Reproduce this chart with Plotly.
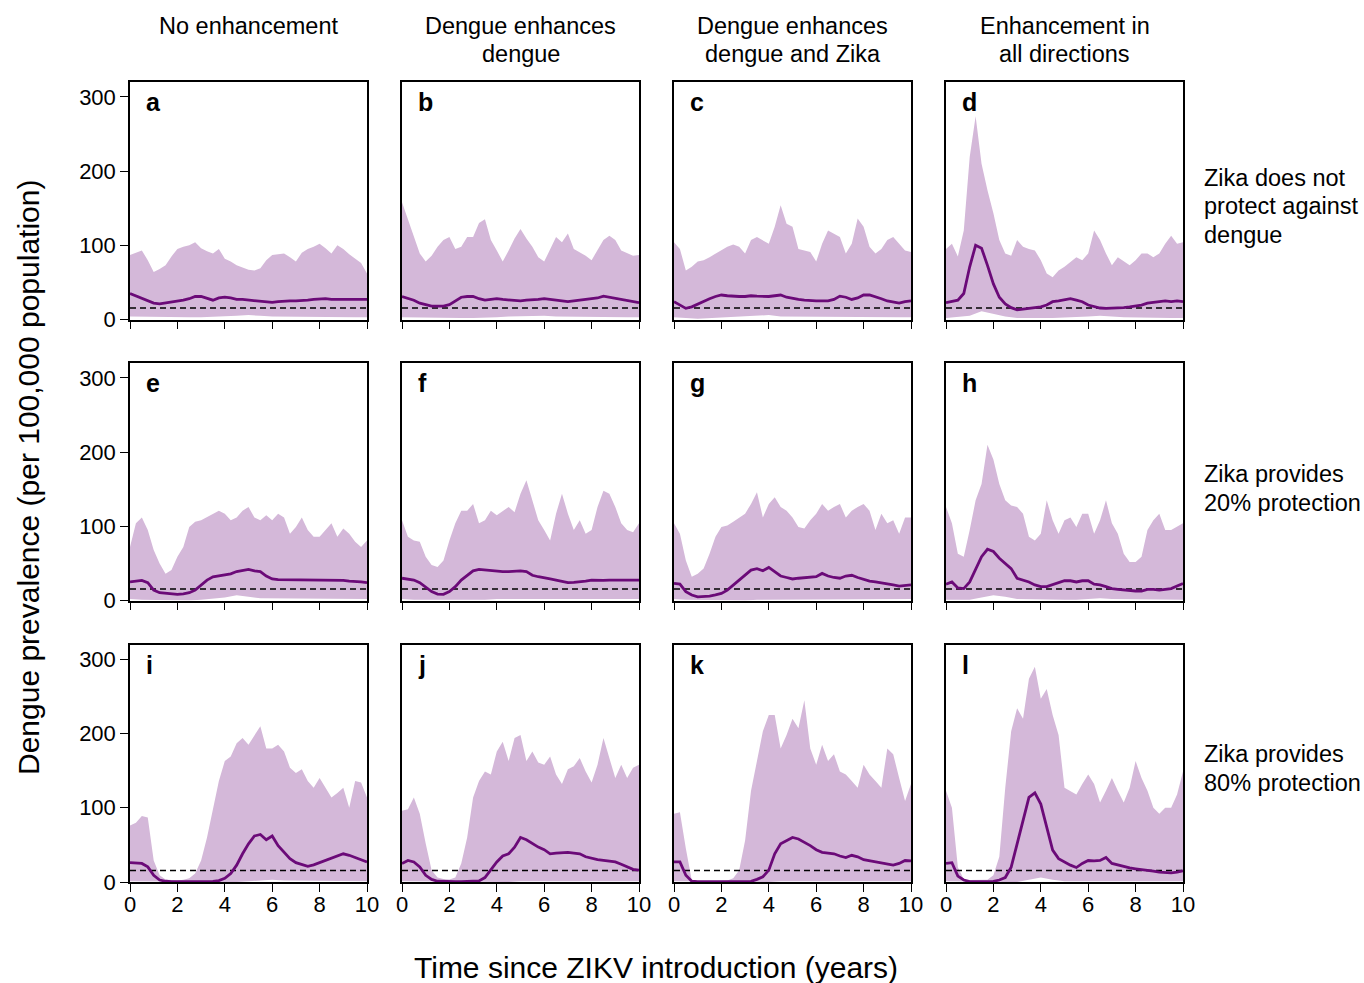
import plotly.graph_objects as go

# ---------------------------------------------------------------------------
# Time grids (years since ZIKV introduction)
# ---------------------------------------------------------------------------
years = [i * 0.25 for i in range(41)]        # grid for upper bound and median
years_low = [i * 0.5 for i in range(21)]     # grid for lower bound

# Dengue prevalence per 100,000: upper bound of the simulation envelope
upper_a = [87, 90, 93, 80, 64, 68, 73, 85, 95, 98, 100, 104, 96, 92, 89, 95, 82, 78, 73, 70, 67,
           66, 69, 80, 87, 88, 89, 84, 78, 90, 95, 98, 102, 96, 89, 100, 95, 88, 82, 76, 62]
upper_b = [158, 134, 111, 89, 78, 86, 98, 107, 111, 95, 98, 111, 111, 130, 135, 107, 93, 78, 93, 109, 122,
           109, 98, 84, 78, 95, 111, 104, 116, 95, 91, 86, 80, 93, 107, 113, 107, 93, 89, 86, 87]
upper_c = [104, 95, 66, 71, 78, 80, 84, 89, 93, 98, 101, 98, 89, 107, 111, 107, 102, 125, 154, 129, 125,
           95, 93, 91, 78, 102, 120, 116, 111, 89, 102, 136, 125, 98, 89, 95, 107, 111, 102, 93, 91]
upper_d = [95, 102, 85, 120, 219, 274, 210, 174, 143, 107, 89, 86, 107, 98, 95, 93, 80, 62, 57, 66, 71,
           78, 84, 80, 89, 120, 107, 89, 73, 84, 78, 73, 80, 89, 89, 84, 89, 102, 113, 102, 104]
upper_e = [72, 104, 112, 95, 68, 50, 36, 41, 59, 72, 99, 106, 108, 112, 117, 121, 117, 108, 112, 121, 126,
           112, 108, 115, 108, 117, 112, 90, 99, 112, 95, 86, 86, 95, 104, 86, 97, 90, 79, 72, 81]
upper_f = [108, 86, 81, 79, 59, 48, 45, 54, 81, 104, 121, 121, 130, 104, 108, 121, 115, 121, 126, 119, 144,
           162, 135, 108, 95, 81, 117, 144, 117, 95, 108, 90, 95, 126, 148, 144, 126, 104, 95, 92, 104]
upper_g = [104, 90, 54, 32, 36, 43, 63, 86, 99, 101, 106, 112, 117, 130, 146, 112, 130, 139, 126, 121, 112,
           99, 97, 108, 117, 130, 121, 126, 130, 112, 121, 126, 130, 121, 95, 117, 104, 108, 90, 112, 112]
upper_h = [126, 104, 63, 59, 95, 135, 157, 210, 190, 157, 135, 128, 126, 117, 86, 81, 90, 135, 108, 90, 108,
           112, 99, 117, 117, 90, 108, 135, 104, 90, 63, 52, 52, 59, 95, 108, 117, 95, 95, 99, 104]
upper_i = [76, 80, 89, 87, 29, 9, 3.5, 2.5, 2, 3, 5, 11.5, 29, 60, 100, 136, 163, 169, 187, 194, 185,
           198, 210, 180, 180, 185, 176, 154, 147, 152, 136, 127, 140, 127, 114, 120, 127, 100, 136, 134, 114]
upper_j = [96, 98, 114, 92, 52, 16, 6, 4, 3.5, 6, 25, 60, 114, 136, 149, 145, 176, 189, 163, 194, 198,
           163, 176, 161, 158, 169, 145, 132, 152, 156, 167, 149, 134, 158, 194, 167, 140, 158, 140, 154, 158]
upper_k = [92, 94, 45, 2, 1.5, 1, 1, 1, 1.5, 2, 5, 16, 56, 123, 163, 203, 225, 225, 180, 198, 220,
           207, 245, 180, 158, 185, 163, 172, 149, 145, 136, 127, 158, 145, 136, 127, 180, 172, 140, 109, 132]
upper_l = [123, 100, 20, 3.5, 2.7, 2.5, 2.5, 3, 9, 34, 127, 203, 234, 220, 274, 290, 247, 260, 225, 198, 127,
           123, 118, 132, 145, 132, 107, 123, 140, 123, 107, 127, 163, 140, 123, 100, 92, 100, 100, 118, 149]

# Median prevalence across simulations
median_a = [35, 32, 29, 26, 22, 21, 22, 23, 24, 26, 28, 31, 31, 28, 26, 29, 30, 29, 27, 27, 26,
            26, 25, 24, 23, 24, 25, 25, 25, 26, 26, 27, 28, 28, 27, 27, 27, 27, 26, 26, 27]
median_b = [31, 29, 26, 22, 19.5, 18, 18, 18, 20, 25, 30, 31, 31, 28, 26, 27, 28, 27, 26, 25, 25,
            26, 26, 27, 28, 27, 26, 25, 24, 25, 26, 27, 28, 29, 31.5, 30, 28, 27, 26, 24, 22.6]
median_c = [24, 20, 15, 17, 21, 25, 28, 31, 33, 32, 31, 31, 31, 32, 31.5, 31, 31, 32, 33, 30, 28,
            27, 26, 25, 25, 25, 25, 27, 31.5, 30, 27, 29, 33, 33, 31, 28, 25, 23, 22, 24, 25]
median_d = [22.6, 24, 26, 35, 71, 100, 96, 73, 48, 30, 21, 16, 13, 14, 15, 16, 17, 19.5, 24, 25, 27,
            28, 26, 24, 19.5, 17, 15.5, 15, 15, 15, 16, 17, 18, 19.5, 22, 22.6, 24, 25, 24, 25, 24]
median_e = [25, 26, 27, 24, 14, 10.5, 9.6, 9, 8.3, 9, 10.5, 14, 21, 27.5, 32, 33, 34, 36, 39, 40, 42,
            40, 39, 33, 29, 28, 28, 27.5, 27.5, 27, 27, 27.5, 27.5, 27, 27, 27, 27, 26, 25, 25, 24]
median_f = [30, 29, 27.5, 24, 18.6, 12, 8.7, 8.3, 12, 18.6, 27.5, 34, 40, 42, 41, 40, 40, 39, 39, 40, 40,
            39, 34, 32, 30, 29, 27.5, 26, 24, 24.5, 25, 26, 27.5, 27, 27, 27.5, 27.5, 28, 28, 28, 27.5]
median_g = [23, 22, 12, 7.4, 5, 5, 6, 7.5, 9.6, 14, 21, 27.5, 34, 41, 43, 40, 44.5, 39, 33, 31, 29,
            30, 31, 31, 32, 36.5, 33, 31, 30, 33, 34, 31, 28, 26, 25, 24, 23, 21, 19.5, 20, 21]
median_h = [22, 25, 17, 16, 25, 43, 59, 69, 66, 57, 50, 43, 30, 27.5, 25, 21, 18.6, 18.6, 21, 24, 26.6,
            26.6, 25, 26.6, 26.6, 22, 21, 18.6, 16, 15, 14, 13, 12.8, 12.8, 15, 15, 14, 15, 16, 19.5, 23]
median_i = [26, 26, 25, 20.4, 9, 2.7, 1, 0.5, 0.5, 0.5, 0.5, 0.5, 0.5, 0.5, 0.8, 2, 5, 11.5, 22.7, 38, 51.5,
            62, 64, 57, 62, 49, 40, 31.5, 26, 23, 21, 23, 26, 29, 31.5, 35, 38, 36, 33, 30, 27]
median_j = [25, 29, 27, 20.4, 9, 3.5, 1, 0.5, 0.5, 0.5, 0.5, 0.5, 0.5, 1.5, 6, 16, 27, 35, 38, 47, 60,
            57, 51.5, 47, 43.5, 38, 39, 40, 40, 39, 38, 34, 31.5, 30, 29, 28.4, 27, 24, 20.4, 17, 16]
median_k = [27, 27, 9, 1, 0.5, 0.5, 0.5, 0.5, 0.5, 0.5, 0.5, 0.5, 0.5, 0.8, 3.5, 7, 16, 38, 51.5, 56, 60,
            58, 54, 49, 43.5, 40, 39, 38, 35, 33, 36, 34, 30, 28.4, 27, 26, 24, 22.7, 25, 29, 28.4]
median_l = [25, 26, 8, 2.7, 0.5, 0.5, 0.5, 0.5, 0.8, 2.7, 6, 20, 52, 83, 114, 120, 105, 74, 43, 31.5, 27,
            22.7, 19.5, 25, 29, 28.4, 29, 33, 25, 22.7, 20.4, 19, 17.8, 17, 16, 14.7, 13.3, 12.4, 12.4, 13.3, 15]

# Lower bound of the simulation envelope
lower_a = [4, 4, 3, 3, 3, 3, 3, 3, 4, 5, 6, 5, 4, 3, 3, 3, 3, 3, 3, 3, 3]
lower_b = [3, 3, 2, 2, 2, 2, 2, 2, 3, 4, 5, 5, 5, 4, 3, 3, 3, 4, 3, 3, 3]
lower_c = [3, 2, 1, 1, 2, 3, 4, 5, 6, 4, 3, 3, 3, 3, 3, 3, 3, 3, 3, 3, 3]
lower_d = [2, 3, 5, 11, 8, 4, 2, 2, 2, 2, 2, 3, 4, 5, 4, 3, 2, 2, 2, 2, 2]
lower_e = [2, 1, 0, 0, 0, 0, 1, 2, 4, 7, 5, 3, 2, 2, 2, 2, 2, 2, 2, 2, 2]
lower_f = [2, 1, 0, 0, 0, 0, 1, 1, 2, 3, 3, 2, 2, 2, 2, 2, 2, 2, 2, 2, 2]
lower_g = [2, 1, 0, 0, 0, 0, 0, 1, 2, 2, 2, 2, 2, 2, 2, 2, 2, 2, 2, 2, 2]
lower_h = [1, 1, 1, 4, 7, 5, 2, 1, 1, 1, 1, 1, 2, 3, 2, 1, 1, 1, 1, 1, 1]
lower_i = [1, 0, 0, 0, 0, 0, 0, 0, 0, 0, 1, 2, 3, 2, 1, 1, 1, 1, 1, 1, 1]
lower_j = [1, 0, 0, 0, 0, 0, 0, 0, 0, 0, 1, 2, 2, 1, 1, 1, 1, 1, 1, 1, 1]
lower_k = [1, 0, 0, 0, 0, 0, 0, 0, 0, 1, 2, 2, 2, 1, 1, 1, 1, 1, 1, 1, 1]
lower_l = [1, 0, 0, 0, 0, 0, 0, 3, 6, 3, 1, 1, 1, 1, 1, 1, 1, 1, 1, 1, 1]

# Pre-Zika endemic level (dashed reference)
baseline = 15.5

panel_letters = ["a", "b", "c", "d", "e", "f", "g", "h", "i", "j", "k", "l"]
uppers = [upper_a, upper_b, upper_c, upper_d, upper_e, upper_f,
          upper_g, upper_h, upper_i, upper_j, upper_k, upper_l]
medians = [median_a, median_b, median_c, median_d, median_e, median_f,
           median_g, median_h, median_i, median_j, median_k, median_l]
lowers = [lower_a, lower_b, lower_c, lower_d, lower_e, lower_f,
          lower_g, lower_h, lower_i, lower_j, lower_k, lower_l]

column_titles = [["No enhancement"],
                 ["Dengue enhances", "dengue"],
                 ["Dengue enhances", "dengue and Zika"],
                 ["Enhancement in", "all directions"]]
row_titles = [["Zika does not", "protect against", "dengue"],
              ["Zika provides", "20% protection"],
              ["Zika provides", "80% protection"]]

x_ticks = [0, 2, 4, 6, 8, 10]
y_ticks = [0, 100, 200, 300]

# ---------------------------------------------------------------------------
# Layout geometry (pixels in a 1364 x 983 page)
# ---------------------------------------------------------------------------
W, H = 1364, 983
col_px = [(130, 367), (402, 639), (674, 911), (946, 1183)]
row_px = [(82, 319.5), (363, 600.5), (644.5, 882)]

BAND = "#D4B8D9"
LINE = "#6B0A78"
FONT = "Liberation Sans, Arial, Helvetica, sans-serif"


def px_x(p):
    return p / W


def px_y(p):
    return 1 - p / H


fig = go.Figure()
layout = dict(
    width=W, height=H,
    margin=dict(l=0, r=0, t=0, b=0, pad=0, autoexpand=False),
    paper_bgcolor="white", plot_bgcolor="white",
    showlegend=False,
    font=dict(family=FONT, color="black", size=22),
)
annotations = []

for k in range(12):
    r, c = divmod(k, 4)
    idx = k + 1
    xa = "x" if idx == 1 else f"x{idx}"
    ya = "y" if idx == 1 else f"y{idx}"

    up, med, lo = uppers[k], medians[k], lowers[k]

    # envelope polygon: upper bound forward, lower bound backward
    fig.add_trace(go.Scatter(
        x=years + years_low[::-1], y=up + lo[::-1],
        mode="lines", fill="toself", fillcolor=BAND,
        line=dict(width=0), hoverinfo="skip", xaxis=xa, yaxis=ya))
    fig.add_trace(go.Scatter(
        x=[years[0], years[-1]], y=[baseline, baseline], mode="lines",
        line=dict(color="black", width=1.6, dash="6px,4px"),
        hoverinfo="skip", xaxis=xa, yaxis=ya))
    fig.add_trace(go.Scatter(
        x=years, y=med, mode="lines",
        line=dict(color=LINE, width=2.8), xaxis=xa, yaxis=ya))

    x0, x1 = col_px[c]
    y0, y1 = row_px[r]
    layout[f"xaxis{'' if idx == 1 else idx}"] = dict(
        domain=[px_x(x0), px_x(x1)], range=[0, 10], anchor=ya,
        tickvals=x_ticks, ticks="outside", ticklen=8, tickwidth=1.2,
        tickcolor="black", showticklabels=(r == 2), automargin=False,
        ticklabelstandoff=-6,
        tickfont=dict(size=22), showline=True, mirror=True,
        linecolor="black", linewidth=1.5, showgrid=False, zeroline=False)
    layout[f"yaxis{'' if idx == 1 else idx}"] = dict(
        domain=[px_y(y1), px_y(y0)], range=[0, 320], anchor=xa,
        tickvals=y_ticks, ticks="outside" if c == 0 else "",
        ticklen=8, tickwidth=1.2, tickcolor="black", automargin=False,
        showticklabels=(c == 0), tickfont=dict(size=22),
        showline=True, mirror=True, linecolor="black", linewidth=1.5,
        showgrid=False, zeroline=False)

    annotations.append(dict(
        text=f"<b>{panel_letters[k]}</b>", xref="paper", yref="paper",
        x=px_x(x0 + 14), y=px_y(y0 + 20), xanchor="left", yanchor="middle",
        showarrow=False, font=dict(size=25)))

# column headings
for c, lines in enumerate(column_titles):
    cx = (col_px[c][0] + col_px[c][1]) / 2
    for j, line in enumerate(lines):
        annotations.append(dict(
            text=line, xref="paper", yref="paper", x=px_x(cx), y=px_y(26 + 28 * j),
            xanchor="center", yanchor="middle", showarrow=False, font=dict(size=23.5)))

# row headings
row_line_px = [[178, 206.5, 235], [474, 502.5], [754, 782.5]]
for r, lines in enumerate(row_titles):
    for j, line in enumerate(lines):
        annotations.append(dict(
            text=line, xref="paper", yref="paper", x=px_x(1202), y=px_y(row_line_px[r][j]),
            xanchor="left", yanchor="middle", showarrow=False, font=dict(size=23.5)))

# axis titles
annotations.append(dict(
    text="Dengue prevalence (per 100,000 population)", xref="paper", yref="paper",
    x=px_x(28), y=px_y(478), xanchor="center", yanchor="middle", textangle=-90,
    showarrow=False, font=dict(size=30)))
annotations.append(dict(
    text="Time since ZIKV introduction (years)", xref="paper", yref="paper",
    x=px_x(656), y=px_y(967), xanchor="center", yanchor="middle",
    showarrow=False, font=dict(size=30)))

layout["annotations"] = annotations
fig.update_layout(**layout)
fig.write_html("out.html")
